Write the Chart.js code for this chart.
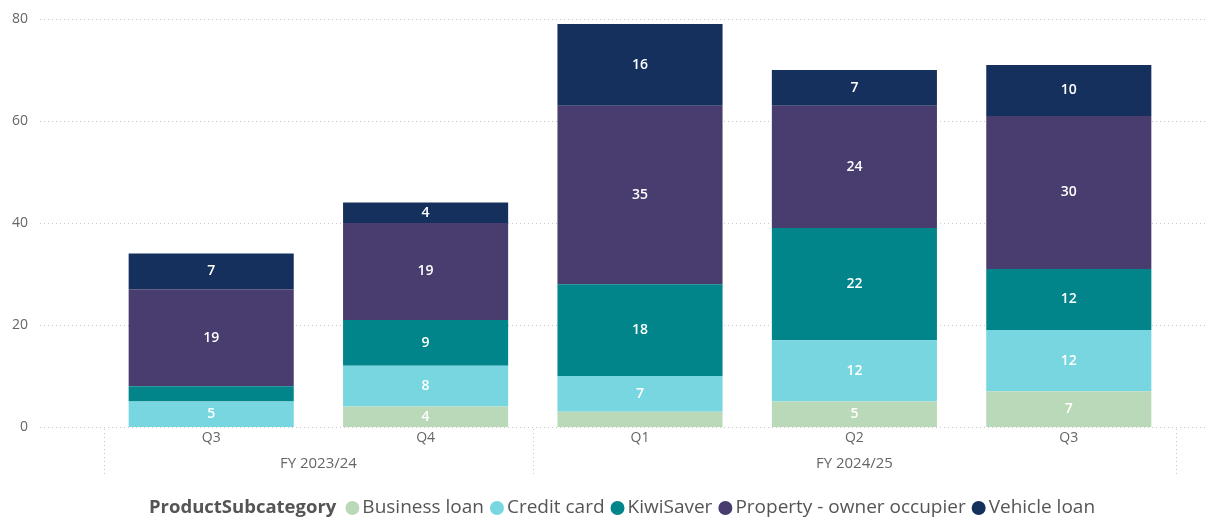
<!DOCTYPE html>
<html>
<head>
<meta charset="utf-8">
<script src="https://cdn.jsdelivr.net/npm/chart.js@4/dist/chart.umd.min.js"></script>
<style>
  html, body { margin: 0; padding: 0; background: #fff; }
  #wrap { width: 1206px; height: 519px; position: relative; }
</style>
</head>
<body>
<div id="wrap"><canvas id="chart" width="1206" height="519"></canvas></div>
<script>
// ---- data ----
const quarters = ['Q3', 'Q4', 'Q1', 'Q2', 'Q3'];
const fiscalYears = ['FY 2023/24', 'FY 2023/24', 'FY 2024/25', 'FY 2024/25', 'FY 2024/25'];
const businessLoan = [0, 4, 3, 5, 7];
const creditCard = [5, 8, 7, 12, 12];
const kiwiSaver = [3, 9, 18, 22, 12];
const propertyOwner = [19, 19, 35, 24, 30];
const vehicleLoan = [7, 4, 16, 7, 10];
const yTicks = [0, 20, 40, 60, 80];

const FONT = "'Open Sans', 'Noto Sans', sans-serif";

// dotted grid, y labels, group separators and fiscal year labels
const gridPlugin = {
  id: 'gridLines',
  beforeDatasetsDraw(chart) {
    const ctx = chart.ctx, y = chart.scales.y, x = chart.scales.x;
    ctx.save();
    ctx.strokeStyle = '#c8c8c8';
    ctx.lineWidth = 1;
    ctx.setLineDash([1, 3]);
    yTicks.forEach(v => {
      const py = Math.round(y.getPixelForValue(v)) + 0.5;
      ctx.beginPath();
      ctx.moveTo(40, py);
      ctx.lineTo(chart.width, py);
      ctx.stroke();
    });
    const half = (x.getPixelForValue(1) - x.getPixelForValue(0)) / 2;
    const bottom = y.getPixelForValue(0);
    const seps = [x.getPixelForValue(0) - half];
    for (let i = 1; i < fiscalYears.length; i++) {
      if (fiscalYears[i] !== fiscalYears[i - 1]) seps.push(x.getPixelForValue(i) - half);
    }
    seps.push(x.getPixelForValue(fiscalYears.length - 1) + half);
    seps.forEach(sx => {
      const px = Math.round(sx) + 0.5;
      ctx.beginPath();
      ctx.moveTo(px, bottom + 2);
      ctx.lineTo(px, bottom + 50);
      ctx.stroke();
    });
    ctx.setLineDash([]);
    ctx.font = '14px ' + FONT;
    ctx.fillStyle = '#666';
    ctx.textAlign = 'right';
    ctx.textBaseline = 'middle';
    yTicks.forEach(v => ctx.fillText(String(v), 28, y.getPixelForValue(v)));
    ctx.restore();
  },
  afterDraw(chart) {
    const ctx = chart.ctx, x = chart.scales.x, y = chart.scales.y;
    ctx.save();
    ctx.font = '15px ' + FONT;
    ctx.fillStyle = '#666';
    ctx.textAlign = 'center';
    ctx.textBaseline = 'middle';
    let start = 0;
    for (let i = 1; i <= fiscalYears.length; i++) {
      if (i === fiscalYears.length || fiscalYears[i] !== fiscalYears[start]) {
        const cx = (x.getPixelForValue(start) + x.getPixelForValue(i - 1)) / 2;
        ctx.fillText(fiscalYears[start], cx, y.getPixelForValue(0) + 37);
        start = i;
      }
    }
    ctx.restore();
  }
};

// value labels inside segments
const labelPlugin = {
  id: 'segLabels',
  afterDatasetsDraw(chart) {
    const ctx = chart.ctx;
    ctx.save();
    ctx.font = '600 14px ' + FONT;
    ctx.fillStyle = '#fff';
    ctx.textAlign = 'center';
    ctx.textBaseline = 'middle';
    chart.data.datasets.forEach((ds, di) => {
      chart.getDatasetMeta(di).data.forEach((bar, i) => {
        const v = ds.data[i];
        if (v < 4) return;
        ctx.fillText(String(v), bar.x, (bar.y + bar.base) / 2);
      });
    });
    ctx.restore();
  }
};

// inline legend with bold title
const legendPlugin = {
  id: 'inlineLegend',
  afterDraw(chart) {
    const ctx = chart.ctx;
    const title = 'ProductSubcategory';
    const items = chart.data.datasets.map(d => ({ text: d.label, color: d.backgroundColor }));
    const r = 7, gapDot = 3, gapItem = 6;
    const titleFont = 'bold 18.5px ' + FONT, itemFont = '19px ' + FONT;
    ctx.save();
    ctx.textBaseline = 'middle';
    ctx.font = titleFont;
    const titleW = ctx.measureText(title).width;
    ctx.font = itemFont;
    let total = titleW + 9;
    items.forEach(it => { it.w = ctx.measureText(it.text).width; total += r * 2 + gapDot + it.w + gapItem; });
    total -= gapItem;
    let px = (chart.width - total) / 2 + 19;
    const py = 508;
    ctx.font = titleFont;
    ctx.fillStyle = '#555';
    ctx.fillText(title, px, py);
    px += titleW + 9;
    ctx.font = itemFont;
    items.forEach(it => {
      ctx.beginPath();
      ctx.fillStyle = it.color;
      ctx.arc(px + r, py, r, 0, Math.PI * 2);
      ctx.fill();
      px += r * 2 + gapDot;
      ctx.fillStyle = '#555';
      ctx.fillText(it.text, px, py);
      px += it.w + gapItem;
    });
    ctx.restore();
  }
};

const seg = (label, data, color) => ({
  label, data,
  backgroundColor: color,
  borderWidth: 0,
  categoryPercentage: 1,
  barPercentage: 0.77
});

new Chart(document.getElementById('chart').getContext('2d'), {
  type: 'bar',
  data: {
    labels: quarters,
    datasets: [
      seg('Business loan', businessLoan, '#bad9b8'),
      seg('Credit card', creditCard, '#78d6e0'),
      seg('KiwiSaver', kiwiSaver, '#02858a'),
      seg('Property - owner occupier', propertyOwner, '#483d6e'),
      seg('Vehicle loan', vehicleLoan, '#16305d')
    ]
  },
  options: {
    responsive: false,
    animation: false,
    layout: { padding: { top: 19, right: 30, left: 0, bottom: 0 } },
    plugins: {
      legend: { display: false },
      tooltip: { enabled: false }
    },
    scales: {
      x: {
        stacked: true,
        grid: { display: false, drawTicks: false },
        border: { display: false },
        ticks: { color: '#666', font: { family: FONT, size: 14 }, padding: 3, maxRotation: 0 },
        afterFit(s) { s.height = 92; }
      },
      y: {
        stacked: true,
        min: 0,
        max: 80,
        grid: { display: false, drawTicks: false },
        border: { display: false },
        ticks: { display: false, stepSize: 20 },
        afterFit(s) { s.width = 104; }
      }
    }
  },
  plugins: [gridPlugin, labelPlugin, legendPlugin]
});
</script>
</body>
</html>
